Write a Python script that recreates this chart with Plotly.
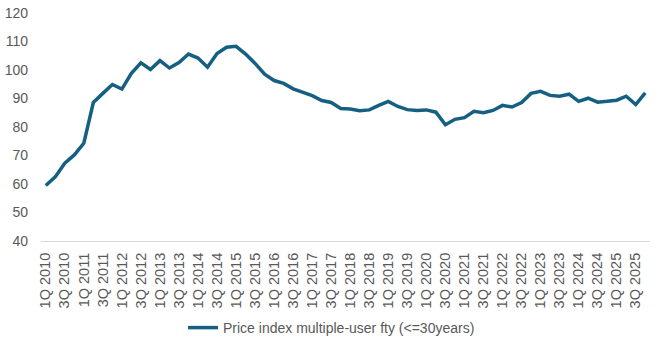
import plotly.graph_objects as go

# Quarter labels 1Q 2010 .. 4Q 2025
years = list(range(2010, 2026))
quarters = [f"{q}Q {y}" for y in years for q in (1, 2, 3, 4)]

# Price index, multiple-user family dwellings (<=30 years), quarterly
price_index = [
    59.5, 62.5, 67.3, 70.2, 74.3, 88.6, 91.8, 94.9,
    93.3, 98.8, 102.5, 100.2, 103.3, 100.7, 102.6, 105.6,
    104.2, 101.0, 105.8, 108.0, 108.3, 105.6, 102.3, 98.5,
    96.3, 95.3, 93.4, 92.2, 91.0, 89.3, 88.6, 86.5,
    86.3, 85.7, 86.0, 87.6, 89.0, 87.2, 86.1, 85.8,
    86.0, 85.2, 80.8, 82.7, 83.3, 85.5, 85.0, 85.8,
    87.6, 87.0, 88.6, 91.8, 92.5, 91.1, 90.8, 91.5,
    89.0, 90.1, 88.7, 89.0, 89.4, 90.8, 87.9, 92.0,
]

tick_labels = quarters[::2]
y_ticks = [40, 50, 60, 70, 80, 90, 100, 110, 120]

series_name = "Price index multiple-user fty (<=30years)"
line_color = "#156082"
text_color = "#595959"
font_family = "Liberation Sans, Arial, sans-serif"

fig = go.Figure()
fig.add_trace(go.Scatter(
    x=quarters,
    y=price_index,
    mode="lines",
    name=series_name,
    line=dict(color=line_color, width=3.5, shape="linear"),
    showlegend=True,
))

fig.update_layout(
    width=660,
    height=346,
    margin=dict(l=41, r=10, t=13, b=105, autoexpand=False),
    paper_bgcolor="white",
    plot_bgcolor="white",
    font=dict(family=font_family, size=14, color=text_color),
    showlegend=True,
    legend=dict(
        orientation="h",
        x=0.477,
        xanchor="center",
        yref="container",
        y=0.052,
        yanchor="middle",
        font=dict(size=14, color=text_color),
        itemwidth=30,
    ),
    xaxis=dict(
        type="category",
        categoryorder="array",
        categoryarray=quarters,
        tickmode="array",
        tickvals=tick_labels,
        ticktext=tick_labels,
        tickangle=-90,
        tickfont=dict(size=14.5, color=text_color),
        showgrid=False,
        showline=True,
        linecolor="#D9D9D9",
        linewidth=1,
        ticks="",
        ticklabelstandoff=5,
        zeroline=False,
        automargin=False,
        range=[-0.5, len(quarters) - 0.5],
    ),
    yaxis=dict(
        range=[40, 120],
        tickmode="array",
        tickvals=y_ticks,
        tickfont=dict(size=14, color=text_color),
        showgrid=False,
        showline=False,
        zeroline=False,
        ticks="",
        ticklabelstandoff=12,
        automargin=False,
    ),
)

fig.write_html("out.html")
